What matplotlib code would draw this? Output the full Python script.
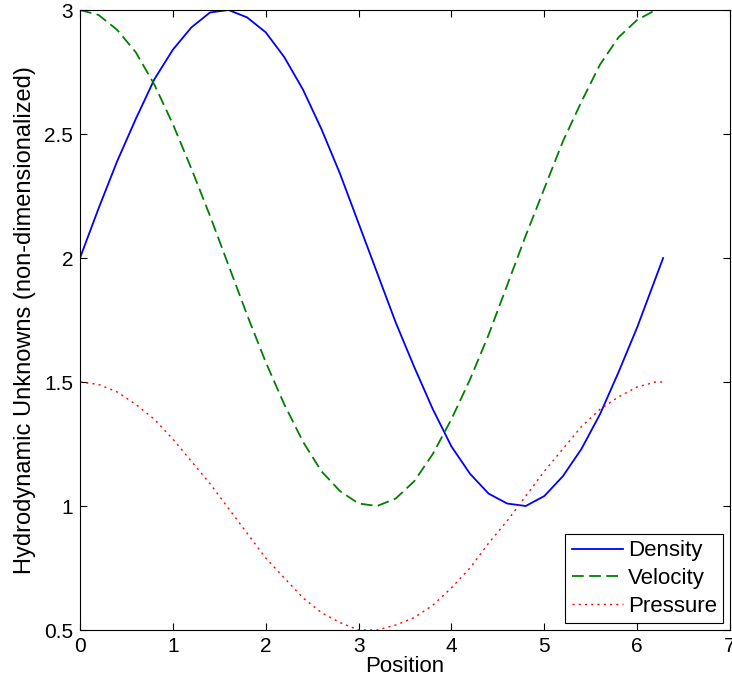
import numpy as np
import matplotlib as mpl
mpl.use('Agg')
import matplotlib.pyplot as plt

plt.rcParams['font.family'] = ['Liberation Sans', 'DejaVu Sans']

# values
position = [0, 0.2, 0.4, 0.6, 0.8, 1.0, 1.2, 1.4, 1.6, 1.8, 2.0, 2.2, 2.4,
            2.6, 2.8, 3.0, 3.2, 3.4, 3.6, 3.8, 4.0, 4.2, 4.4, 4.6, 4.8, 5.0,
            5.2, 5.4, 5.6, 5.8, 6.0, 6.2, 6.28]
density = [2.00, 2.20, 2.39, 2.56, 2.72, 2.84, 2.93, 2.99, 3.00, 2.97, 2.91,
           2.81, 2.68, 2.52, 2.34, 2.14, 1.94, 1.74, 1.56, 1.39, 1.24, 1.13,
           1.05, 1.01, 1.00, 1.04, 1.12, 1.23, 1.37, 1.54, 1.72, 1.92, 2.00]
velocity = [3.00, 2.98, 2.92, 2.83, 2.70, 2.54, 2.36, 2.17, 1.97, 1.77, 1.58,
            1.41, 1.26, 1.14, 1.06, 1.01, 1.00, 1.03, 1.10, 1.21, 1.35, 1.51,
            1.69, 1.89, 2.09, 2.28, 2.47, 2.63, 2.78, 2.89, 2.96, 3.00, 3.00]
pressure = [1.50, 1.49, 1.46, 1.41, 1.35, 1.27, 1.18, 1.09, 0.99, 0.89, 0.79,
            0.71, 0.63, 0.57, 0.53, 0.50, 0.50, 0.52, 0.55, 0.60, 0.67, 0.75,
            0.85, 0.94, 1.04, 1.14, 1.23, 1.32, 1.39, 1.44, 1.48, 1.50, 1.50]

fig = plt.figure(figsize=(7.32, 6.90), dpi=100)
ax = fig.add_axes([80/732., 60/690., 650/732., 620/690.])

ax.plot(position, density, color='#0000ff', lw=1.3, label='Density')
ax.plot(position, velocity, color='#008000', lw=1.3, ls=(0, (6.5, 3)), label='Velocity')
ax.plot(position, pressure, color='#ff0000', lw=1.0, ls=(0, (1.5, 3)), label='Pressure')

ax.set_xlim(0, 7)
ax.set_ylim(0.5, 3)
ax.set_xticks(range(0, 8))
ax.set_yticks([0.5, 1, 1.5, 2, 2.5, 3])
ax.set_yticklabels(['0.5', '1', '1.5', '2', '2.5', '3'])
ax.tick_params(direction='in', top=True, right=True, labelsize=15, length=5, pad=5)
for s in ax.spines.values():
    s.set_linewidth(0.8)

ax.set_xlabel('Position', fontsize=16, labelpad=0)
ax.set_ylabel('Hydrodynamic Unknowns (non-dimensionalized)', fontsize=17, labelpad=6)

leg = ax.legend(loc='lower right', fontsize=16, fancybox=False, framealpha=1,
                edgecolor='black', borderaxespad=0.3, handlelength=2.3,
                handletextpad=0.2, labelspacing=0.3, borderpad=0.3)
leg.get_frame().set_linewidth(0.8)

fig.savefig('out.png', dpi=100)
